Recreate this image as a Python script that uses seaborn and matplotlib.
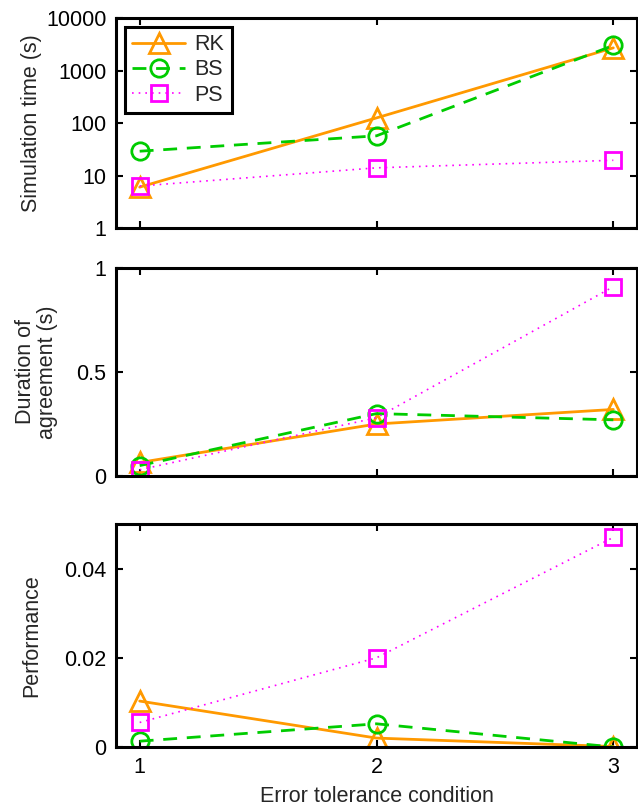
import matplotlib
matplotlib.use("Agg")
import matplotlib.pyplot as plt
import seaborn as sns
import pandas as pd

# Data
conditions = [1, 2, 3]
methods = ["RK", "BS", "PS"]

sim_time_rk = [6.0, 125.0, 2700.0]
sim_time_bs = [29.0, 57.0, 3000.0]
sim_time_ps = [6.3, 14.0, 19.5]

agreement_rk = [0.065, 0.25, 0.32]
agreement_bs = [0.05, 0.30, 0.27]
agreement_ps = [0.03, 0.28, 0.91]

perf_rk = [0.0103, 0.0020, 0.0001]
perf_bs = [0.0013, 0.0052, 0.0]
perf_ps = [0.0055, 0.0200, 0.0470]

colors = {"RK": "#ff9900", "BS": "#00cc00", "PS": "#ff00ff"}
markers = {"RK": "^", "BS": "o", "PS": "s"}
msizes = {"RK": 14, "BS": 12.5, "PS": 11}
styles = {"RK": "-", "BS": (0, (5, 3.5)), "PS": (0, (1, 3))}
widths = {"RK": 2.0, "BS": 2.0, "PS": 1.2}

FS = 15.5


def long_frame(rk, bs, ps):
    rows = []
    for name, vals in zip(methods, [rk, bs, ps]):
        for c, v in zip(conditions, vals):
            rows.append({"condition": c, "value": v, "method": name})
    return pd.DataFrame(rows)


def main():
    sns.set_style("ticks")
    plt.rcParams["font.family"] = ["Liberation Sans", "DejaVu Sans"]
    plt.rcParams["font.size"] = FS

    fig = plt.figure(figsize=(6.38, 8.07), dpi=100)
    left, width = 116 / 638, 521 / 638
    ax1 = fig.add_axes([left, 1 - 228 / 807, width, 210 / 807])
    ax2 = fig.add_axes([left, 1 - 476 / 807, width, 208 / 807])
    ax3 = fig.add_axes([left, 1 - 747 / 807, width, 223 / 807])

    frames = [
        long_frame(sim_time_rk, sim_time_bs, sim_time_ps),
        long_frame(agreement_rk, agreement_bs, agreement_ps),
        long_frame(perf_rk, perf_bs, perf_ps),
    ]

    for ax, df in zip([ax1, ax2, ax3], frames):
        for name in methods:
            sub = df[df["method"] == name]
            sns.lineplot(data=sub, x="condition", y="value", ax=ax,
                         color=colors[name], marker=markers[name],
                         linestyle=styles[name], linewidth=widths[name],
                         markersize=msizes[name], markerfacecolor="none",
                         markeredgecolor=colors[name], markeredgewidth=2,
                         label=name)
        ax.set_xlim(0.9, 3.1)
        ax.set_xticks(conditions)
        ax.set_xlabel("")
        for sp in ax.spines.values():
            sp.set_linewidth(2.2)
            sp.set_color("black")
        ax.tick_params(direction="in", top=True, right=True, length=5,
                       width=1.5, labelsize=FS, colors="black", pad=7)
        if ax is not ax1:
            ax.get_legend().remove()

    # top panel: log scale
    ax1.set_yscale("log")
    ax1.set_ylim(1, 10000)
    ax1.set_yticks([1, 10, 100, 1000, 10000])
    ax1.set_yticklabels(["1", "10", "100", "1000", "10000"])
    ax1.minorticks_off()
    ax1.set_xticklabels([])
    ax1.set_ylabel("Simulation time (s)", fontsize=FS)
    ax1.yaxis.set_label_coords(-0.142, 0.5)

    ax2.set_ylim(0, 1)
    ax2.set_yticks([0, 0.5, 1])
    ax2.set_yticklabels(["0", "0.5", "1"])
    ax2.set_xticklabels([])
    ax2.set_ylabel("Duration of\nagreement (s)", fontsize=FS, linespacing=1.05)
    ax2.yaxis.set_label_coords(-0.112, 0.5)

    ax3.set_ylim(0, 0.05)
    ax3.set_yticks([0, 0.02, 0.04])
    ax3.set_yticklabels(["0", "0.02", "0.04"])
    ax3.set_xticklabels(["1", "2", "3"])
    ax3.set_ylabel("Performance", fontsize=FS)
    ax3.yaxis.set_label_coords(-0.142, 0.5)
    ax3.set_xlabel("Error tolerance condition", fontsize=FS, labelpad=6)

    leg = ax1.legend(loc="upper left", fancybox=False, framealpha=1,
                     edgecolor="black", fontsize=FS, handlelength=2.45,
                     handletextpad=0.45, borderpad=0.35,
                     borderaxespad=0.4, labelspacing=0.2, numpoints=1)
    leg.get_frame().set_linewidth(2.2)

    fig.savefig("out.png", dpi=100)


if __name__ == "__main__":
    main()
